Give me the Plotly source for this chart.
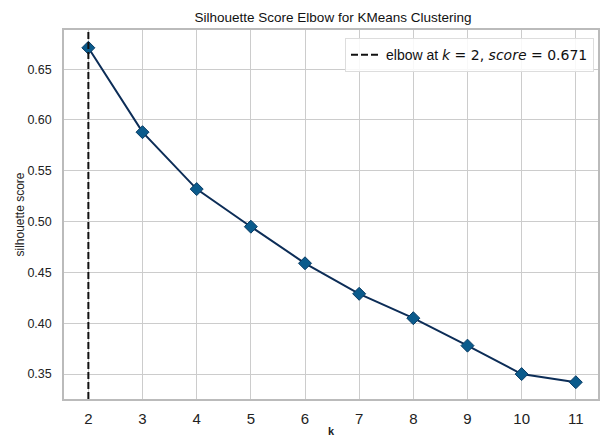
import plotly.graph_objects as go

k_values = [2, 3, 4, 5, 6, 7, 8, 9, 10, 11]
scores = [0.671, 0.588, 0.532, 0.495, 0.459, 0.429, 0.405, 0.378, 0.350, 0.342]
elbow_k = 2
elbow_score = 0.671
y_ticks = [0.35, 0.40, 0.45, 0.50, 0.55, 0.60, 0.65]
x_range = [1.55, 11.41]
y_range = [0.3255, 0.6885]

FONT = "Liberation Sans, Arial, sans-serif"

fig = go.Figure()

fig.add_vline(x=elbow_k, line=dict(color="#111111", width=2, dash="7px,3px"), layer="above")

fig.add_trace(go.Scatter(
    x=k_values, y=scores, mode="lines+markers",
    line=dict(color="#0c2d57", width=2),
    marker=dict(symbol="diamond", size=10, color="#0b5b8c",
                line=dict(color="#0a3d66", width=1)),
    showlegend=False, hoverinfo="x+y",
))

legend_text = (
    "elbow at <span style='font-family:DejaVu Sans'><i>k</i> = %d, <i>score</i> = %.3f</span>"
    % (elbow_k, elbow_score)
)
fig.add_trace(go.Scatter(
    x=[None], y=[None], mode="lines",
    line=dict(color="#111111", width=2, dash="7px,3px"),
    name=legend_text, showlegend=True,
))

fig.update_layout(
    width=600, height=437,
    margin=dict(l=64, r=0, t=30, b=38),
    paper_bgcolor="white", plot_bgcolor="white",
    font=dict(family=FONT, size=12, color="#222222"),
    title=dict(text="Silhouette Score Elbow for KMeans Clustering",
               x=333 / 600, xanchor="center", y=1 - 17 / 437, yanchor="middle",
               font=dict(family=FONT, size=13.5, color="#111111")),
    legend=dict(x=0.9925, y=0.978, xanchor="right", yanchor="top",
                bgcolor="rgba(255,255,255,0.85)", bordercolor="#dddddd", borderwidth=1,
                font=dict(family=FONT, size=14, color="#111111"),
                itemwidth=30),
    showlegend=True,
)

fig.update_xaxes(
    range=x_range, tickmode="array", tickvals=k_values,
    ticktext=[str(k) for k in k_values],
    showgrid=True, gridcolor="#cccccc", gridwidth=1.2,
    showline=True, linecolor="#bbbbbb", linewidth=1.5, mirror=True,
    zeroline=False, ticks="", ticklabelstandoff=5,
    tickfont=dict(family=FONT, size=15, color="#222222"),
    title=dict(text="<b>k</b>", standoff=2, font=dict(family=FONT, size=11, color="#222222")),
)
fig.update_yaxes(
    range=y_range, tickmode="array", tickvals=y_ticks,
    ticktext=["%.2f" % v for v in y_ticks],
    showgrid=True, gridcolor="#cccccc", gridwidth=1.2,
    showline=True, linecolor="#bbbbbb", linewidth=1.5, mirror=True,
    zeroline=False, ticks="", ticklabelstandoff=8,
    tickfont=dict(family=FONT, size=12.5, color="#222222"),
    title=dict(text="silhouette score", standoff=0, font=dict(family=FONT, size=12, color="#222222")),
)

fig.write_html("out.html")
